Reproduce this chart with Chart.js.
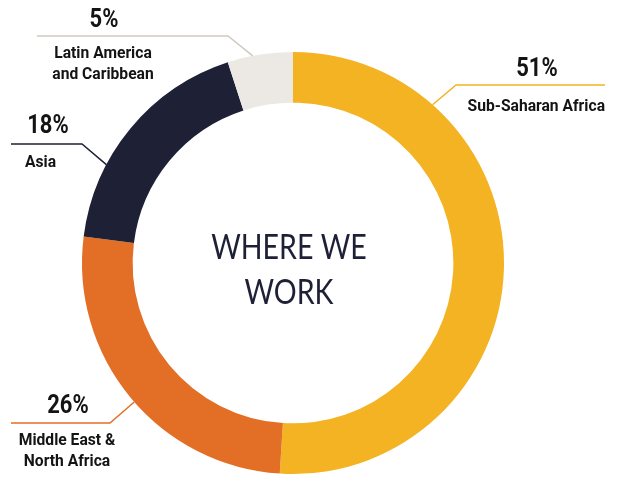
<!DOCTYPE html>
<html>
<head>
<meta charset="utf-8">
<script src="https://cdn.jsdelivr.net/npm/chart.js@4"></script>
<style>
  body { margin: 0; background: #fff; }
  canvas { display: block; }
</style>
</head>
<body>
<canvas id="whereWeWork" width="622" height="477"></canvas>
<script>
const regions = ["Sub-Saharan Africa", "Middle East & North Africa", "Asia", "Latin America and Caribbean"];
const shares = [51, 26, 18, 5];
const sliceColors = ["#F3B323", "#E36F26", "#1E2035", "#ECE9E4"];
const leaderColors = ["#F3B323", "#E36F26", "#1E2035", "#CFC9C1"];

// where each callout sits (angle on the ring edge, elbow, line end, text)
const callouts = [
  { angle: -48.6, elbow: [456, 85], end: [605, 85], pct: [537, 76], lines: ["Sub-Saharan Africa"], textX: 605, textY: 111, align: "right" },
  { angle: 138.8, elbow: [110, 423], end: [11, 423], pct: [68, 413], lines: ["Middle East &", "North Africa"], textX: 67, textY: 445, align: "center" },
  { angle: -152.2, elbow: [82, 144], end: [11, 144], pct: [48, 133], lines: ["Asia"], textX: 25, textY: 167, align: "left" },
  { angle: -101, elbow: [228, 36], end: [37, 36], pct: [104, 27], lines: ["Latin America", "and Caribbean"], textX: 103, textY: 58, align: "center" },
];

// the original face is narrower than the installed ones, squeeze a little
const narrowText = (ctx, text, x, y, squeeze) => {
  ctx.fillText(text, x, y, ctx.measureText(text).width * squeeze);
};

const calloutPlugin = {
  id: "callouts",
  afterDraw(chart) {
    const ctx = chart.ctx;
    const arcs = chart.getDatasetMeta(0).data;
    ctx.save();
    arcs.forEach((arc, i) => {
      const c = callouts[i];
      const a = (c.angle * Math.PI) / 180;
      const ax = arc.x + Math.cos(a) * arc.outerRadius;
      const ay = arc.y + Math.sin(a) * arc.outerRadius;
      ctx.strokeStyle = leaderColors[i];
      ctx.lineWidth = 1.5;
      ctx.beginPath();
      ctx.moveTo(ax, ay);
      ctx.lineTo(c.elbow[0], c.elbow[1]);
      ctx.lineTo(c.end[0], c.end[1]);
      ctx.stroke();

      ctx.fillStyle = "#141414";
      ctx.textBaseline = "alphabetic";
      ctx.textAlign = "center";
      ctx.font = "bold 25px Roboto, sans-serif";
      narrowText(ctx, shares[i] + "%", c.pct[0], c.pct[1], 0.88);

      ctx.textAlign = c.align;
      ctx.font = "bold 17px Roboto, sans-serif";
      c.lines.forEach((line, j) => {
        narrowText(ctx, line, c.textX, c.textY + j * 21, 0.92);
      });
    });

    // centre title
    const cx = arcs[0].x - 4;
    ctx.fillStyle = "#1E2035";
    ctx.textAlign = "center";
    ctx.font = "34px Lato, sans-serif";
    narrowText(ctx, "WHERE WE", cx, 259, 0.84);
    narrowText(ctx, "WORK", cx, 304, 0.84);
    ctx.restore();
  },
};

new Chart(document.getElementById("whereWeWork"), {
  type: "doughnut",
  data: {
    labels: regions,
    datasets: [
      {
        data: shares,
        backgroundColor: sliceColors,
        borderWidth: 0,
      },
    ],
  },
  options: {
    responsive: false,
    animation: false,
    cutout: "76%",
    layout: {
      padding: { top: 52, bottom: 3, left: 82, right: 118 },
    },
    plugins: {
      legend: { display: false },
      tooltip: { enabled: false },
    },
  },
  plugins: [calloutPlugin],
});
</script>
</body>
</html>
